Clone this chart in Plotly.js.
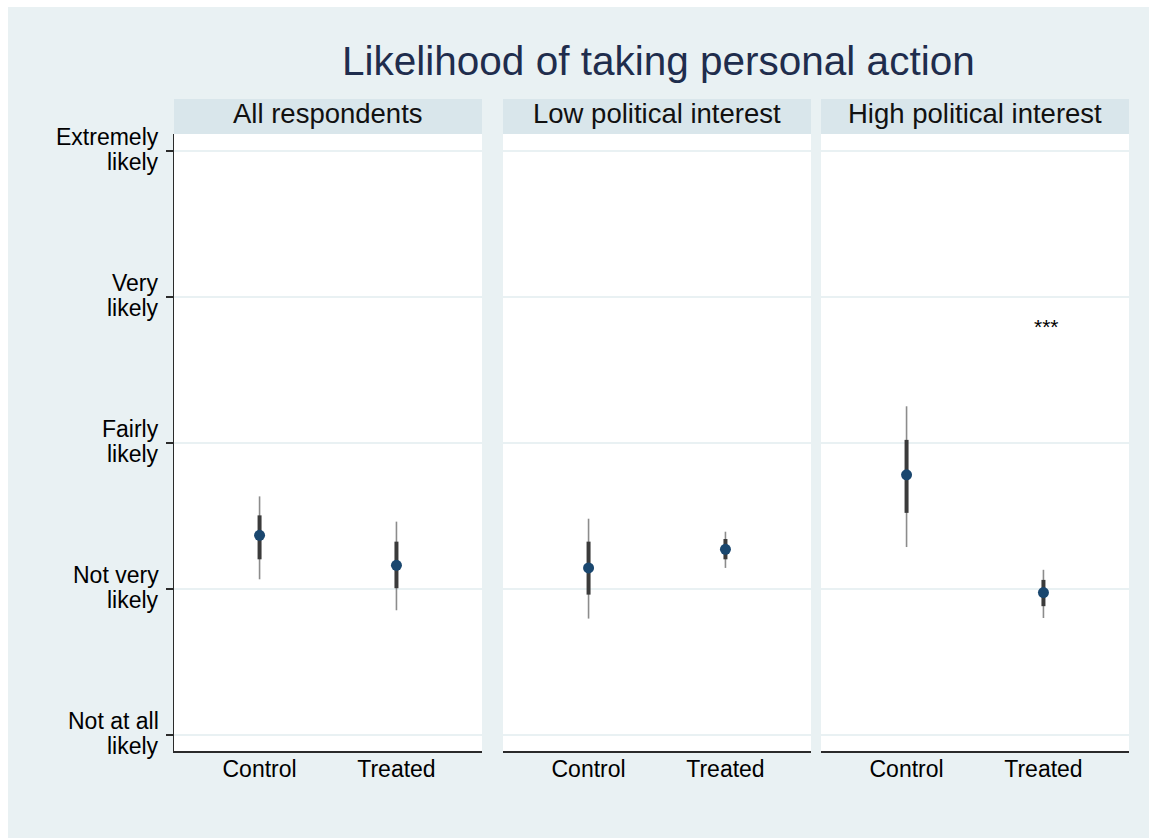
<!DOCTYPE html>
<html>
<head>
<meta charset="utf-8">
<script src="https://cdn.plot.ly/plotly-3.0.1.min.js"></script>
<style>
  html, body { margin: 0; padding: 0; background: #ffffff; }
  #chart { position: absolute; left: 8px; top: 7px; width: 1141px; height: 831px; }
</style>
</head>
<body>
<div id="chart"></div>
<script>
// ---- Data ----
const panelTitles = ["All respondents", "Low political interest", "High political interest"];
const groups = ["Control", "Treated"];
const estAll   = [2.367, 2.162];
const estLow   = [2.144, 2.271];
const estHigh  = [2.782, 1.975];
const lo90All  = [2.203, 2.005];
const hi90All  = [2.504, 2.324];
const lo90Low  = [1.961, 2.203];
const hi90Low  = [2.324, 2.342];
const lo90High = [2.521, 1.882];
const hi90High = [3.021, 2.062];
const lo95All  = [2.066, 1.854];
const hi95All  = [2.634, 2.461];
const lo95Low  = [1.797, 2.144];
const hi95Low  = [2.481, 2.392];
const lo95High = [2.287, 1.801];
const hi95High = [3.251, 2.131];
const yTickVals = [1, 2, 3, 4, 5];
const yTickText = ["Not at all<br>likely", "Not very<br>likely", "Fairly<br>likely", "Very<br>likely", "Extremely<br>likely"];
const sigLabel = "***";
const sigPanel = 2, sigGroup = "Treated", sigY = 3.80;

const est  = [estAll, estLow, estHigh];
const lo90 = [lo90All, lo90Low, lo90High];
const hi90 = [hi90All, hi90Low, hi90High];
const lo95 = [lo95All, lo95Low, lo95High];
const hi95 = [hi95All, hi95Low, hi95High];

// ---- Styling ----
const FONT = "Liberation Sans, Arial, sans-serif";
const bg = "#e9f1f3";
const stripColor = "#d9e6eb";
const gridColor = "#e9f1f3";
const navy = "#1a476f";
const xDomains = [[0.14549, 0.41543], [0.43383, 0.70377], [0.71253, 0.98247]];
const yDomain = [0.10469, 0.84717];
const stripTop = 0.88929;

const traces = [];
for (let p = 0; p < 3; p++) {
  const xa = p === 0 ? "x" : "x" + (p + 1);
  const ya = p === 0 ? "y" : "y" + (p + 1);
  const e = est[p];
  traces.push({
    type: "scatter", mode: "markers", x: groups, y: e, xaxis: xa, yaxis: ya,
    marker: { size: 1, opacity: 0 }, hoverinfo: "skip",
    error_y: { type: "data", symmetric: false,
      array: e.map((v, i) => hi95[p][i] - v), arrayminus: e.map((v, i) => v - lo95[p][i]),
      color: "#8c8c8c", thickness: 1.6, width: 0 }
  });
  traces.push({
    type: "scatter", mode: "markers", x: groups, y: e, xaxis: xa, yaxis: ya,
    marker: { size: 1, opacity: 0 }, hoverinfo: "skip",
    error_y: { type: "data", symmetric: false,
      array: e.map((v, i) => hi90[p][i] - v), arrayminus: e.map((v, i) => v - lo90[p][i]),
      color: "#3b3b3b", thickness: 4, width: 0 }
  });
  traces.push({
    type: "scatter", mode: "markers", x: groups, y: e, xaxis: xa, yaxis: ya,
    marker: { size: 11, color: navy, symbol: "circle" }
  });
}

const layout = {
  width: 1141, height: 831,
  margin: { l: 0, r: 0, t: 0, b: 0, pad: 0 },
  paper_bgcolor: bg, plot_bgcolor: "#ffffff",
  showlegend: false, hovermode: false,
  font: { family: FONT, color: "#000000" },
  shapes: [], annotations: []
};

for (let p = 0; p < 3; p++) {
  const sx = p === 0 ? "" : String(p + 1);
  layout["xaxis" + sx] = {
    domain: xDomains[p], anchor: "y" + sx, type: "category",
    categoryorder: "array", categoryarray: groups,
    range: [-0.625, 1.625], showgrid: false, zeroline: false,
    showline: true, linecolor: "#2b2b2b", linewidth: 2,
    ticks: "", ticklabelstandoff: -4,
    tickfont: { family: FONT, size: 23, color: "#000" },
    fixedrange: true, automargin: false
  };
  layout["yaxis" + sx] = {
    domain: yDomain, anchor: "x" + sx, range: [0.89, 5.116],
    tickvals: yTickVals, showticklabels: false,
    ticks: p === 0 ? "outside" : "",
    ticklen: 7, tickwidth: 1.5, tickcolor: "#2b2b2b",
    showline: p === 0, linecolor: "#2b2b2b", linewidth: 1.5,
    showgrid: true, gridcolor: gridColor, gridwidth: 1.2, zeroline: false,
    fixedrange: true, automargin: false
  };
  layout.shapes.push({
    type: "rect", xref: "paper", yref: "paper",
    x0: xDomains[p][0], x1: xDomains[p][1], y0: yDomain[1], y1: stripTop,
    fillcolor: stripColor, line: { width: 0 }, layer: "below"
  });
  layout.annotations.push({
    xref: "paper", yref: "paper",
    x: (xDomains[p][0] + xDomains[p][1]) / 2, y: (yDomain[1] + stripTop) / 2,
    xanchor: "center", yanchor: "middle", showarrow: false, yshift: 3,
    text: panelTitles[p], font: { family: FONT, size: 27.5, color: "#111" }
  });
}

// y tick labels (two lines each, tighter line spacing than Plotly's default)
yTickVals.forEach((v, i) => {
  const lines = yTickText[i].split("<br>");
  lines.forEach((ln, j) => {
    layout.annotations.push({
      xref: "paper", yref: "y", x: xDomains[0][0], y: v,
      xanchor: "right", yanchor: "middle", showarrow: false,
      xshift: -13, yshift: (j === 0 ? 14 : -11),
      text: ln, font: { family: FONT, size: 23, color: "#000" }
    });
  });
});

// significance stars
const ssx = sigPanel === 0 ? "" : String(sigPanel + 1);
layout.annotations.push({
  xref: "x" + ssx, yref: "y" + ssx, x: sigGroup, y: sigY,
  xanchor: "center", yanchor: "middle", showarrow: false, xshift: 3,
  text: sigLabel, font: { family: FONT, size: 21, color: "#000" }
});

// main title
layout.annotations.push({
  xref: "paper", yref: "paper", x: (xDomains[0][0] + xDomains[2][1]) / 2, y: 0.937,
  xanchor: "center", yanchor: "middle", showarrow: false, xshift: 7, yshift: -2,
  text: "Likelihood of taking personal action",
  font: { family: FONT, size: 40.5, color: "#1f2d4d" }
});

Plotly.newPlot("chart", traces, layout, { staticPlot: true, displayModeBar: false });
</script>
</body>
</html>
